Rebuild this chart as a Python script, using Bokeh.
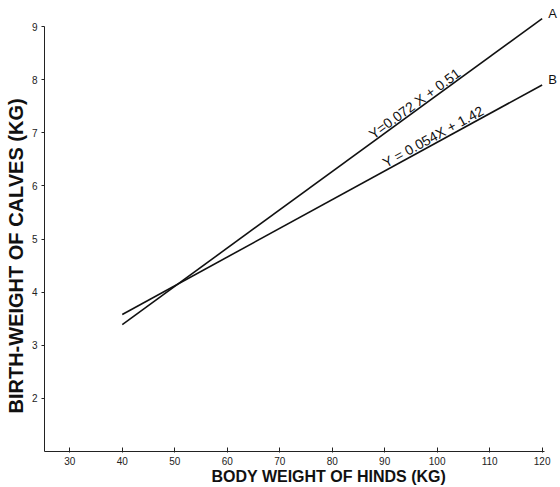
import math
import numpy as np
from bokeh.plotting import figure
from bokeh.models import Range1d, Title, ColumnDataSource, FixedTicker
from bokeh.core.properties import value
from bokeh.embed import file_html
from bokeh.resources import INLINE

# ---- data ----
line_names = ["A", "B"]
line_x = [40, 120]
line_a_y = [3.39, 9.15]
line_b_y = [3.58, 7.90]
equations = ["Y=0.072 X + 0.51", "Y = 0.054X + 1.42"]
equation_x = [87.3, 89.8]
x_ticks = [30, 40, 50, 60, 70, 80, 90, 100, 110, 120]
y_ticks = [2, 3, 4, 5, 6, 7, 8, 9]
x_title = "BODY WEIGHT OF HINDS (KG)"
y_title = "BIRTH-WEIGHT OF CALVES (KG)"

W, H = 560, 487
LEFT, BOTTOM = 44, 36
X0, X1 = 25.18, 123.5
Y0, Y1 = 1.0, 9.49

p = figure(width=W, height=H, output_backend="svg", toolbar_location=None,
           x_range=Range1d(X0, X1), y_range=Range1d(Y0, Y1),
           min_border_left=LEFT, min_border_bottom=BOTTOM,
           min_border_top=0, min_border_right=0)
p.outline_line_color = None
p.xgrid.visible = False
p.ygrid.visible = False
p.background_fill_color = "white"

tick_font = "Liberation Sans"
for ax in (p.xaxis[0], p.yaxis[0]):
    ax.axis_line_color = "#222222"
    ax.axis_line_width = 1
    ax.major_tick_line_color = "#222222"
    ax.minor_tick_line_color = None
    ax.major_label_text_font = tick_font
    ax.major_label_text_font_size = "10px"
    ax.major_label_text_color = "#222222"

p.xaxis.ticker = FixedTicker(ticks=x_ticks)
p.yaxis.ticker = FixedTicker(ticks=y_ticks)
p.xaxis.bounds = (X0, 120.5)
p.yaxis.bounds = (Y0, 9)
p.xaxis.major_tick_in = 4
p.xaxis.major_tick_out = 1
p.xaxis.major_label_standoff = 4
p.yaxis.major_tick_in = 0
p.yaxis.major_tick_out = 3
p.yaxis.major_label_standoff = 4

# regression lines
for ys in (line_a_y, line_b_y):
    p.line(line_x, ys, line_color="#111111", line_width=1.6)

# line end labels
end_src = ColumnDataSource(dict(x=[line_x[-1], line_x[-1]],
                                y=[line_a_y[-1], line_b_y[-1]],
                                t=line_names))
p.text(x="x", y="y", text="t", source=end_src, x_offset=6, y_offset=2,
       text_font=value(tick_font), text_font_size="13px",
       text_color="#111111", text_align="left", text_baseline="bottom")

# equation labels along lines
px_per_x = (W - LEFT) / (X1 - X0)
px_per_y = (H - BOTTOM) / (Y1 - Y0)
eq_y = []
angles = []
for ys, ex in zip((line_a_y, line_b_y), equation_x):
    eq_y.append(float(np.interp(ex, line_x, ys)))
    slope = (ys[1] - ys[0]) / (line_x[1] - line_x[0])
    angles.append(math.atan(slope * px_per_y / px_per_x))
eq_src = ColumnDataSource(dict(x=equation_x, y=eq_y, t=equations, a=angles))
p.text(x="x", y="y", text="t", angle="a", source=eq_src, y_offset=-8,
       text_font=value(tick_font), text_font_size="14px",
       text_color="#111111", text_align="left", text_baseline="alphabetic")

# axis titles
p.add_layout(Title(text=x_title, align="left", offset=167, standoff=0,
                   text_font="Liberation Sans", text_font_style="bold",
                   text_font_size="16px", text_color="#111111",
                   vertical_align="top"), "below")
p.add_layout(Title(text=y_title, align="left", offset=38, standoff=0,
                   text_font="Liberation Sans", text_font_style="bold",
                   text_font_size="20px", text_color="#111111",
                   vertical_align="top"), "left")

open("out.html", "w").write(file_html(p, INLINE))
